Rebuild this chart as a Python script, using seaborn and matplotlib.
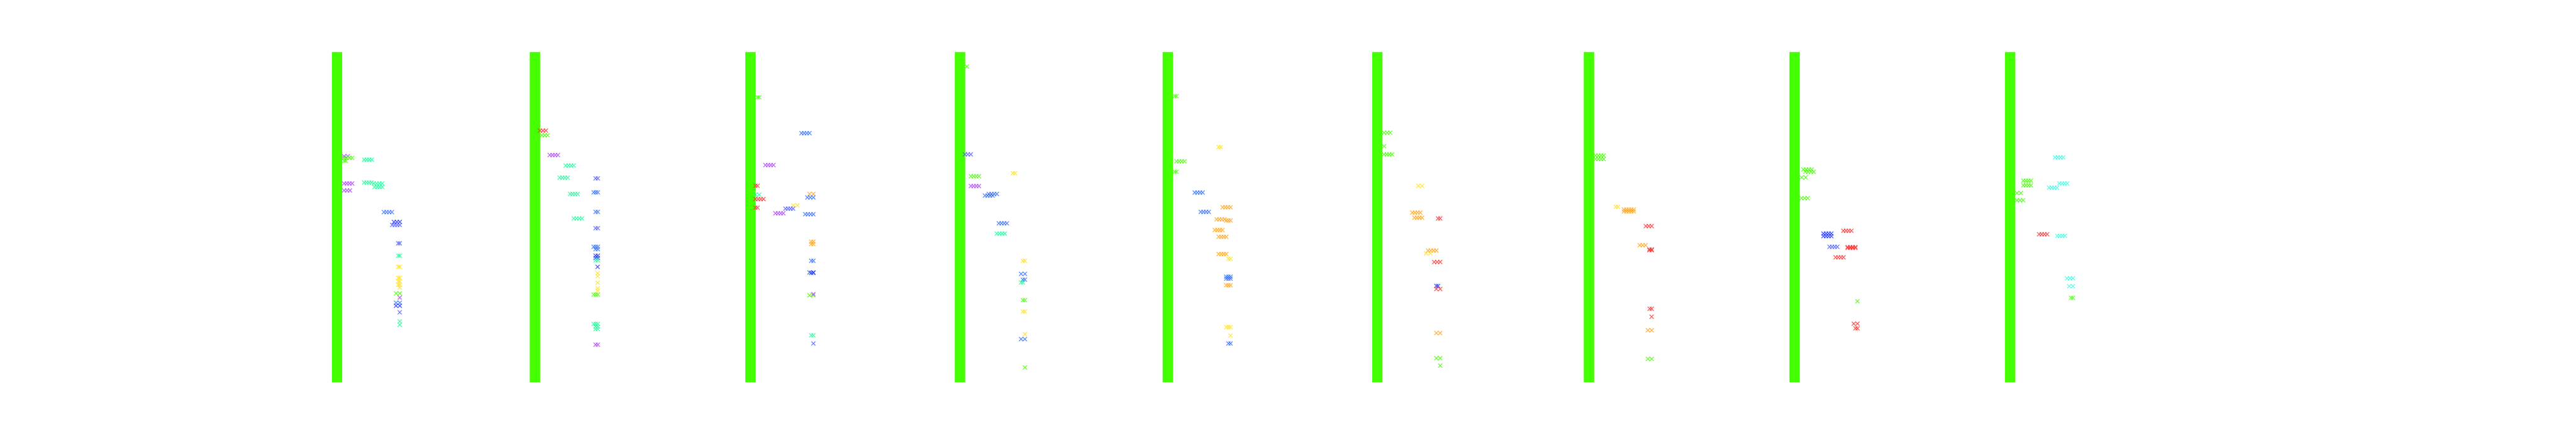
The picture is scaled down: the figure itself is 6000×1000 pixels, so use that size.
import numpy as np
import pandas as pd
import matplotlib
matplotlib.use("Agg")
import matplotlib.pyplot as plt
import seaborn as sns

# rows per panel and width of the solid column at x=0
n_rows = 768
column_width = 24

# panel anchor (left edge of the solid column) in figure pixels
panel_left_px = [773, 1234, 1736, 2224, 2708, 3196, 3689, 4168, 4670]

# (x first mark, x last mark, row, colour key)
p1 = [(28.5, 37.2, 242.3, 'P'), (28.5, 47.2, 246.1, 'G'), (28.5, 32.2, 253.1, 'G'),
      (75.2, 93.2, 250.4, 'A'), (28.5, 47.2, 305.7, 'P'), (28.5, 42.2, 321.9, 'P'),
      (75.2, 92.2, 303.5, 'A'), (97.8, 117.2, 305.7, 'A'), (99.5, 117.2, 313.8, 'A'),
      (121.2, 139.8, 372.3, 'B'), (144.5, 158.2, 395.1, 'D'), (140.5, 158.2, 402.1, 'M'),
      (154.5, 158.2, 444.9, 'M'), (154.5, 158.2, 473.6, 'A'), (154.5, 158.2, 499.6, 'Y'),
      (154.5, 158.2, 525.1, 'Y'), (154.5, 158.2, 533.2, 'Y'), (154.5, 158.2, 541.3, 'Y'),
      (158.0, 158.0, 547.8, 'Y'), (149.5, 158.2, 561.4, 'G'), (158.0, 158.0, 571.1, 'P'),
      (149.5, 158.2, 583.1, 'B'), (149.5, 158.2, 590.1, 'D'), (158.0, 158.0, 605.3, 'M'),
      (158.0, 158.0, 626.4, 'A'), (158.0, 158.0, 634.5, 'A')]
p2 = [(23.8, 37.5, 182.7, 'R'), (28.2, 41.5, 193.6, 'G'), (46.5, 65.5, 239.6, 'P'),
      (83.8, 102.5, 264.0, 'A'), (69.5, 88.2, 292.2, 'A'), (153.2, 158.5, 293.8, 'M'),
      (93.8, 111.5, 330.1, 'A'), (148.8, 158.5, 326.3, 'B'), (153.2, 158.5, 371.8, 'B'),
      (102.5, 121.5, 387.0, 'A'), (153.2, 158.5, 409.7, 'M'), (148.8, 158.5, 453.0, 'B'),
      (153.2, 158.5, 458.5, 'B'), (153.2, 158.5, 473.6, 'D'), (153.2, 158.5, 479.0, 'D'),
      (153.2, 158.5, 484.5, 'A'), (158.0, 158.0, 499.6, 'D'), (158.0, 158.0, 514.3, 'Y'),
      (158.0, 158.0, 521.3, 'Y'), (158.0, 158.0, 536.5, 'Y'), (158.0, 158.0, 549.5, 'Y'),
      (158.0, 158.0, 554.9, 'Y'), (148.8, 158.5, 564.1, 'G'), (148.8, 158.5, 632.3, 'A'),
      (153.2, 158.5, 638.8, 'A'), (153.2, 158.5, 644.3, 'A'), (153.2, 158.5, 680.6, 'P')]
p3 = [(28.5, 32.2, 105.3, 'G'), (130.8, 149.5, 188.7, 'B'), (46.8, 65.5, 262.9, 'P'),
      (23.5, 28.5, 311.1, 'R'), (23.5, 32.2, 331.7, 'A'), (23.5, 42.2, 342.0, 'R'),
      (23.5, 28.5, 362.0, 'R'), (149.5, 158.5, 330.1, 'O'), (144.5, 158.5, 338.2, 'B'),
      (111.8, 121.2, 356.6, 'Y'), (93.5, 111.2, 364.2, 'M'), (70.2, 88.5, 375.0, 'P'),
      (139.5, 158.5, 377.2, 'B'), (153.5, 158.5, 441.1, 'O'), (153.5, 158.5, 446.5, 'O'),
      (153.5, 158.5, 485.5, 'B'), (149.5, 158.5, 512.6, 'Y'), (149.5, 158.5, 512.6, 'B'),
      (153.5, 158.5, 513.5, 'D'), (149.5, 158.5, 565.7, 'G'), (158.5, 158.5, 563.0, 'P'),
      (153.5, 158.5, 658.9, 'A'), (158.5, 158.5, 677.8, 'M')]
p4 = [(28.0, 28.0, 33.8, 'G'), (23.5, 37.2, 238.0, 'M'), (135.2, 140.2, 281.9, 'Y'),
      (37.5, 56.2, 288.9, 'G'), (37.5, 56.2, 311.7, 'P'), (70.2, 87.9, 333.9, 'B'),
      (79.2, 97.9, 330.1, 'B'), (102.5, 121.2, 398.3, 'B'), (97.9, 116.2, 422.2, 'A'),
      (158.5, 163.2, 485.5, 'Y'), (154.2, 163.2, 515.9, 'B'), (158.5, 163.2, 529.4, 'B'),
      (154.2, 158.5, 535.9, 'A'), (158.5, 163.2, 577.1, 'G'), (158.5, 163.2, 603.6, 'Y'),
      (163.3, 163.3, 656.2, 'Y'), (154.2, 163.2, 667.6, 'B'), (163.3, 163.3, 733.6, 'G')]
p5 = [(28.2, 32.5, 102.6, 'G'), (130.5, 135.2, 221.2, 'Y'), (32.5, 50.8, 254.2, 'G'),
      (28.2, 32.5, 278.6, 'G'), (74.8, 93.2, 326.8, 'B'), (139.8, 158.2, 361.0, 'O'),
      (88.8, 107.5, 371.8, 'B'), (125.8, 144.2, 389.1, 'O'), (148.2, 158.2, 391.8, 'O'),
      (121.5, 139.2, 414.0, 'O'), (130.5, 148.2, 429.7, 'O'), (130.5, 148.2, 469.8, 'O'),
      (153.2, 158.2, 480.7, 'Y'), (148.2, 158.2, 522.5, 'B'), (148.2, 158.2, 527.0, 'B'),
      (148.2, 158.2, 542.4, 'O'), (148.2, 158.2, 639.9, 'Y'), (158.2, 158.2, 659.4, 'Y'),
      (153.2, 158.2, 677.8, 'B')]
p6 = [(27.8, 42.2, 187.6, 'G'), (27.8, 28.5, 219.0, 'G'), (27.8, 46.2, 238.0, 'G'),
      (107.5, 116.2, 311.1, 'Y'), (93.5, 112.2, 373.4, 'O'), (98.5, 116.2, 385.3, 'O'),
      (153.5, 158.5, 387.0, 'R'), (130.2, 149.5, 461.7, 'O'), (125.8, 135.2, 468.2, 'Y'),
      (144.5, 158.5, 488.3, 'R'), (149.5, 153.5, 544.0, 'D'), (149.5, 158.5, 551.1, 'R'),
      (149.5, 158.5, 653.5, 'O'), (149.5, 158.5, 712.0, 'G'), (158.5, 158.5, 729.3, 'G')]
p7 = [(27.5, 46.2, 240.7, 'G'), (27.5, 46.2, 248.8, 'G'), (74.5, 79.5, 359.9, 'Y'),
      (93.5, 116.2, 366.4, 'O'), (93.5, 116.2, 370.7, 'O'), (144.5, 158.2, 404.8, 'R'),
      (130.2, 143.9, 449.2, 'O'), (152.9, 158.2, 459.0, 'R'), (152.9, 158.2, 461.0, 'R'),
      (153.5, 158.2, 597.1, 'R'), (158.0, 158.0, 615.6, 'R'), (149.2, 158.2, 647.0, 'O'),
      (149.2, 158.2, 713.6, 'G')]
p8 = [(32.5, 51.5, 273.2, 'G'), (37.2, 56.5, 278.6, 'G'), (28.2, 37.5, 291.6, 'G'),
      (28.2, 42.5, 339.8, 'G'), (125.5, 144.2, 415.7, 'R'), (79.2, 97.5, 422.2, 'D'),
      (79.2, 97.5, 428.1, 'D'), (93.2, 111.5, 453.0, 'M'), (135.5, 153.5, 453.5, 'R'),
      (135.5, 153.5, 455.5, 'R'), (107.5, 125.8, 477.4, 'R'), (158.3, 158.3, 579.8, 'G'),
      (149.8, 158.5, 631.8, 'R'), (153.8, 158.5, 642.6, 'R')]
p9 = [(116.8, 135.5, 245.0, 'C'), (42.8, 60.5, 299.2, 'G'), (42.8, 60.5, 310.0, 'G'),
      (126.8, 144.8, 305.7, 'C'), (102.8, 121.2, 315.4, 'C'), (27.8, 37.2, 327.9, 'G'),
      (27.8, 42.2, 344.7, 'G'), (79.5, 98.2, 423.8, 'R'), (121.8, 139.5, 427.6, 'C'),
      (144.5, 158.2, 526.2, 'C'), (149.5, 158.2, 544.6, 'C'), (153.8, 158.2, 571.7, 'G')]

panels = [p1, p2, p3, p4, p5, p6, p7, p8, p9]

palette = {'G': '#44ff00', 'P': '#b040ff', 'A': '#1aff9c', 'B': '#2f6fff',
           'D': '#1a2fff', 'M': '#4f5cff', 'Y': '#ffe21a', 'O': '#ffa41a',
           'R': '#ff3030', 'C': '#33ffe6'}

# each run is drawn as a row of x marks about 6.3 px apart
rows = []
for i, p in enumerate(panels):
    for xs, xe, y, c in p:
        n = max(1, int(round((xe - xs) / 6.3)) + 1)
        for x in np.linspace(xs, xe, n):
            rows.append({'panel': i, 'x': x, 'y': y, 'c': c})
df = pd.DataFrame(rows)

sns.set_style("white")
W, H = 6000, 1000
fig = plt.figure(figsize=(60, 10), dpi=100)

for i, bl in enumerate(panel_left_px):
    ax = fig.add_axes([(bl - 40) / W, (H - 121 - n_rows) / H, 300 / W, n_rows / H])
    ax.bar(0, n_rows, width=column_width, bottom=0, align='edge',
           color='#44ff00', linewidth=0)
    sub = df[df['panel'] == i]
    sns.scatterplot(data=sub, x='x', y='y', hue='c', palette=palette,
                    marker='x', s=46, linewidth=1.3, alpha=0.8,
                    legend=False, ax=ax)
    ax.set_xlim(-40, 260)
    ax.set_ylim(n_rows, 0)
    ax.set_axis_off()

fig.savefig("out.png", dpi=100)
